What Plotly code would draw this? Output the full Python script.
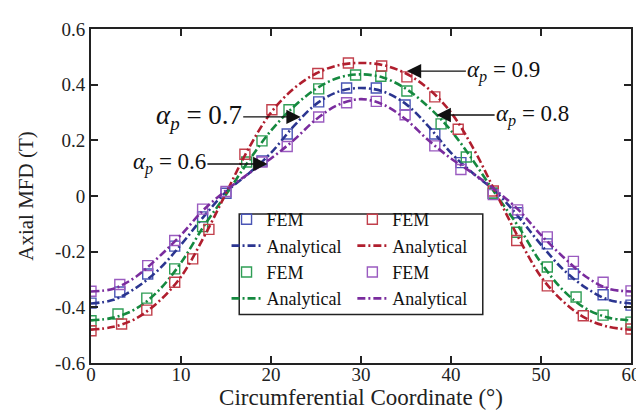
import plotly.graph_objects as go

# ---------------- data ----------------
x_ana = [0, 2.5, 5, 7.5, 10, 12.5, 15, 17.5, 20, 22.5, 25, 27.5, 30,
         32.5, 35, 37.5, 40, 42.5, 45, 47.5, 50, 52.5, 55, 57.5, 60]

ana_06 = [-0.343, -0.333, -0.29, -0.22, -0.14, -0.05, 0.02, 0.08, 0.135, 0.20, 0.275, 0.328, 0.348,
          0.328, 0.275, 0.20, 0.135, 0.08, 0.02, -0.05, -0.14, -0.22, -0.29, -0.333, -0.343]
ana_07 = [-0.386, -0.373, -0.33, -0.265, -0.175, -0.075, 0.015, 0.08, 0.155, 0.25, 0.33, 0.375, 0.388,
          0.375, 0.33, 0.25, 0.155, 0.08, 0.015, -0.075, -0.175, -0.265, -0.33, -0.373, -0.386]
ana_08 = [-0.447, -0.437, -0.405, -0.34, -0.24, -0.11, 0.005, 0.125, 0.235, 0.32, 0.385, 0.425, 0.437,
          0.425, 0.385, 0.32, 0.235, 0.125, 0.005, -0.11, -0.24, -0.34, -0.405, -0.437, -0.447]
ana_09 = [-0.48, -0.47, -0.44, -0.38, -0.29, -0.15, 0.01, 0.17, 0.30, 0.385, 0.44, 0.47, 0.478,
          0.47, 0.44, 0.385, 0.30, 0.17, 0.01, -0.15, -0.29, -0.38, -0.44, -0.47, -0.48]

x_fem = [0, 3.2, 6.3, 9.3, 12.4, 15.0, 19.0, 21.8, 25.3, 28.4, 31.7, 34.9, 38.2,
         41.1, 44.7, 47.4, 50.7, 53.6, 56.9, 60]
fem_06 = [-0.342, -0.318, -0.25, -0.16, -0.047, 0.016, 0.122, 0.178, 0.284, 0.335, 0.34, 0.292, 0.18,
          0.095, 0.005, -0.05, -0.147, -0.235, -0.31, -0.341]
fem_07 = [-0.385, -0.345, -0.28, -0.18, -0.075, 0.01, 0.126, 0.223, 0.338, 0.388, 0.388, 0.327, 0.223,
          0.12, 0.01, -0.06, -0.172, -0.28, -0.355, -0.392]

x_fem_08 = [0, 3.0, 6.2, 9.3, 12.4, 17.3, 19.0, 22.0, 25.3, 29.4, 32.2, 35.1, 38.9,
            41.7, 44.7, 47.3, 50.7, 53.9, 56.9, 60]
fem_08 = [-0.448, -0.424, -0.367, -0.262, -0.11, 0.122, 0.198, 0.31, 0.385, 0.435, 0.43, 0.377, 0.259,
          0.14, 0.01, -0.13, -0.255, -0.363, -0.428, -0.453]

x_fem_09 = [0, 3.4, 6.2, 9.3, 11.3, 13.1, 17.1, 20.1, 25.2, 28.6, 32.3, 35.1, 38.2,
            40.8, 44.7, 47.3, 50.7, 54.7, 60]
fem_09 = [-0.484, -0.46, -0.41, -0.31, -0.226, -0.12, 0.15, 0.31, 0.44, 0.478, 0.467, 0.428, 0.356,
          0.24, 0.018, -0.16, -0.323, -0.43, -0.478]

y_ticks = [-0.6, -0.4, -0.2, 0, 0.2, 0.4, 0.6]
y_tick_text = ["-0.6", "-0.4", "-0.2", "0", "0.2", "0.4", "0.6"]
x_ticks = [0, 10, 20, 30, 40, 50, 60]

# ---------------- styles ----------------
FONT = "Liberation Serif"
DASH = "8px,3px,2px,3px"
series = [
    # (x_fem, fem, ana, line colour, marker colour, legend)
    (x_fem, fem_07, ana_07, "#2B3590", "#4A55B5", "legend"),
    (x_fem_08, fem_08, ana_08, "#15893F", "#2F9E55", "legend"),
    (x_fem_09, fem_09, ana_09, "#B01E2E", "#C2404C", "legend2"),
    (x_fem, fem_06, ana_06, "#7A2C9E", "#9A5BC0", "legend2"),
]

fig = go.Figure()
for xf, yf, ya, lc, mc, lg in series:
    fig.add_trace(go.Scatter(
        x=xf, y=yf, mode="markers", name="FEM", legend=lg,
        marker=dict(symbol="square-open", size=10, color=mc, line=dict(width=1.4, color=mc)),
    ))
    fig.add_trace(go.Scatter(
        x=x_ana, y=ya, mode="lines", name="Analytical", legend=lg,
        line=dict(color=lc, width=2.6, dash=DASH, shape="spline", smoothing=1.0),
    ))

axis_common = dict(
    showgrid=False, zeroline=False, showline=True, linecolor="#222", linewidth=2,
    mirror="ticks", ticks="inside", ticklen=7, tickwidth=1.5, tickcolor="#222",
    tickfont=dict(family=FONT, size=19, color="#222"),
)
fig.update_xaxes(range=[0, 60], tickvals=x_ticks, ticklabelstandoff=-7, **axis_common,
                 title=dict(text="Circumferential Coordinate (°)", font=dict(family=FONT, size=23, color="#222"),
                            standoff=0))
fig.update_yaxes(range=[-0.6, 0.6], tickvals=y_ticks, ticktext=y_tick_text, **axis_common,
                 title=dict(text="Axial MFD (T)", font=dict(family=FONT, size=21, color="#222"),
                            standoff=16))

leg_common = dict(
    font=dict(family=FONT, size=18, color="#111"),
    bgcolor="rgba(255,255,255,0)", borderwidth=0,
    xanchor="left", yanchor="top", tracegroupgap=0, itemwidth=30,
)
fig.update_layout(
    width=644, height=412,
    margin=dict(l=83, r=11, t=19, b=57),
    plot_bgcolor="white", paper_bgcolor="white",
    showlegend=True,
    legend=dict(x=0.251, y=0.485, **leg_common),
    legend2=dict(x=0.484, y=0.485, **leg_common),
)

# legend frame
fig.add_shape(type="rect", xref="paper", yref="paper",
              x0=0.2745, x1=0.7255, y0=0.145, y1=0.446,
              line=dict(color="#222", width=1.5), fillcolor="rgba(0,0,0,0)", layer="above")

# alpha_p annotations: arrow tip on curve, label at the arrow tail
annos = [
    # tip x, tip y, tail offset px (label centre), text, text size
    (35.1, 0.449, 97, "<i>α<sub>p</sub></i> = 0.9", 23),
    (38.4, 0.291, 96, "<i>α<sub>p</sub></i> = 0.8", 23),
    (23.3, 0.284, -102, "<i>α<sub>p</sub></i> = 0.7", 27),
    (19.6, 0.115, -98, "<i>α<sub>p</sub></i> = 0.6", 23),
]
for tx, ty, off, txt, fs in annos:
    fig.add_annotation(x=tx, y=ty, xref="x", yref="y", ax=off, ay=0,
                       text=txt, showarrow=True, arrowhead=2, arrowsize=2.2, arrowwidth=1.3,
                       arrowcolor="#111", standoff=0,
                       font=dict(family=FONT, size=fs, color="#111"))

fig.write_html("out.html")
